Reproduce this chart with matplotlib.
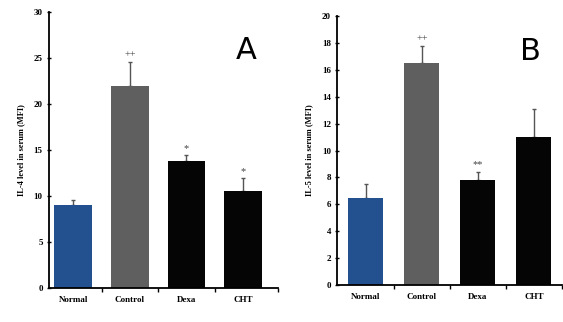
import numpy as np
import matplotlib.pyplot as plt
from matplotlib.ticker import FixedLocator

# Data
groups = ['Normal', 'Control', 'Dexa', 'CHT']
il4 = [9.0, 22.0, 13.8, 10.5]
il4_err = [0.6, 2.6, 0.6, 1.4]
il4_marks = ['', '++', '*', '*']
il5 = [6.5, 16.5, 7.8, 11.0]
il5_err = [1.0, 1.3, 0.6, 2.1]
il5_marks = ['', '++', '**', '']
colors = ['#23508f', '#5f5f5f', '#050505', '#050505']

plt.rcParams['font.family'] = ['Liberation Serif', 'DejaVu Serif']
fig = plt.figure(figsize=(5.63, 3.22), dpi=100)

def panel(rect, vals, errs, marks, ymax, ystep, xlim, width, ylabel, letter, lpos):
    ax = fig.add_axes(rect)
    x = np.arange(len(groups))
    ax.bar(x, vals, width=width, color=colors, zorder=2)
    ax.errorbar(x, vals, yerr=[np.zeros(len(vals)), errs], fmt='none',
                ecolor='#555555', elinewidth=1, capsize=1.5, zorder=1)
    for xi, v, e, m in zip(x, vals, errs, marks):
        if m:
            ax.text(xi, v + e + ymax*0.01, m, ha='center', va='bottom',
                    fontsize=7.5, color='#444444')
    ax.set_xlim(xlim)
    ax.set_ylim(0, ymax)
    ax.set_yticks(np.arange(0, ymax + 0.1, ystep))
    ax.set_xticks(x)
    ax.set_xticklabels(groups, fontsize=6.5, fontweight='bold')
    ax.xaxis.set_minor_locator(FixedLocator([0.5, 1.5, 2.5, xlim[1]]))
    ax.tick_params(axis='x', which='major', length=0, pad=6)
    ax.tick_params(axis='x', which='minor', length=3, width=1, direction='out')
    ax.tick_params(axis='y', labelsize=6.5, length=3, width=1, direction='inout', pad=3)
    for t in ax.get_yticklabels():
        t.set_fontweight('bold')
    ax.set_ylabel(ylabel, fontsize=6, fontweight='bold', labelpad=6)
    ax.spines['top'].set_visible(False)
    ax.spines['right'].set_visible(False)
    ax.spines['left'].set_linewidth(1.3)
    ax.spines['bottom'].set_linewidth(1.3)
    ax.text(lpos[0], lpos[1], letter, transform=ax.transAxes, fontsize=22,
            family=['Liberation Sans Narrow', 'DejaVu Sans'], ha='center', va='center')
    return ax

panel([0.087, 0.106, 0.407, 0.857], il4, il4_err, il4_marks, 30, 5,
      (-0.43, 3.62), 0.67, 'IL-4 level in serum (MFI)', 'A', (0.86, 0.86))
panel([0.599, 0.115, 0.399, 0.835], il5, il5_err, il5_marks, 20, 2,
      (-0.51, 3.50), 0.62, 'IL-5 level in serum (MFI)', 'B', (0.86, 0.87))

fig.savefig('out.png', dpi=100)
